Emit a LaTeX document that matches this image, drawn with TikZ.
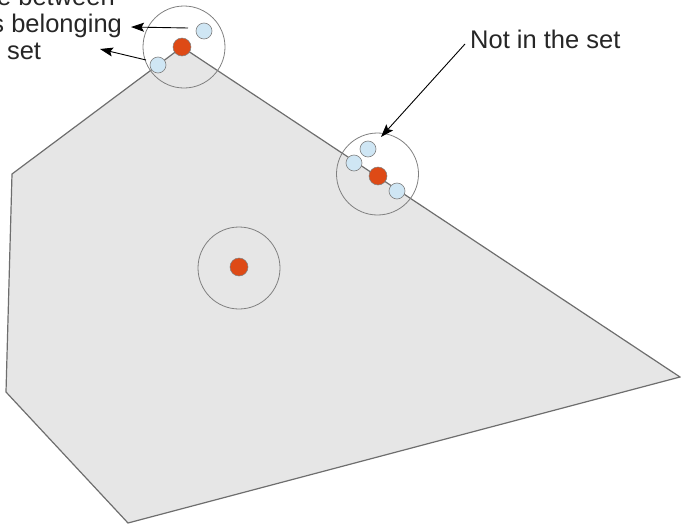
\documentclass[tikz,border=0pt]{standalone}
\usepackage{fontspec}
\setmainfont{Liberation Sans}
\usetikzlibrary{arrows.meta, positioning}
\definecolor{cdot}{HTML}{DE4A16}
\definecolor{cpoint}{HTML}{CFE6F4}
\definecolor{cfill}{HTML}{E6E6E6}
\definecolor{cline}{HTML}{6E6E6E}

\begin{document}
\begin{tikzpicture}[x=1pt, y=-1pt,
    zone/.style={circle, draw=gray, line width=0.8pt, minimum size=82pt, inner sep=0pt},
    member/.style={circle, fill=cdot, draw=gray, line width=0.5pt, minimum size=18pt, inner sep=0pt},
    outside/.style={circle, fill=cpoint, draw=gray, line width=0.6pt, minimum size=16pt, inner sep=0pt},
    arrow/.style={-{Stealth[length=13pt, width=9pt, inset=2.5pt]}, line width=0.9pt, draw=black},
    label/.style={font=\fontsize{25.5}{27}\selectfont, text=black!85, inner sep=0pt}
]
\useasboundingbox (0,0) rectangle (681,525);
\begin{scope}
\clip (0,0) rectangle (681,525);
\filldraw[fill=cfill, draw=cline, line width=1.2pt] (182,47) -- (12,174) -- (6,392) -- (128,523) -- (680,377) -- cycle;
\node[zone] (topzone) at (184,47) {};
\node[zone] (edgezone) at (377.5,174) {};
\node[zone] (innerzone) at (239,268) {};
\node[member] (top) at (182,47) {};
\node[member] (edge) at (378,176) {};
\node[member] (inner) at (239,267) {};
\node[outside] (topa) at (204,31) {};
\node[outside] (topb) at (158,65) {};
\node[outside] (edgea) at (368,149) {};
\node[outside] (edgeb) at (354,163) {};
\node[outside] (edgec) at (397,191) {};
\node[label, align=left, anchor=base west] (between) at (-64,59) {Range between\\points belonging\\to the set};
\node[label, anchor=base west] (notin) at (470,48) {Not in the set};
\coordinate (tailA) at (188,28);
\coordinate (headA) at (131,27);
\coordinate (tailB) at (146,60);
\coordinate (headB) at (100,49);
\coordinate (tailC) at (465,44);
\coordinate (headC) at (381,137);
\draw[arrow] (tailA) -- (headA);
\draw[arrow] (tailB) -- (headB);
\draw[arrow] (tailC) -- (headC);
\end{scope}
\end{tikzpicture}
\end{document}
